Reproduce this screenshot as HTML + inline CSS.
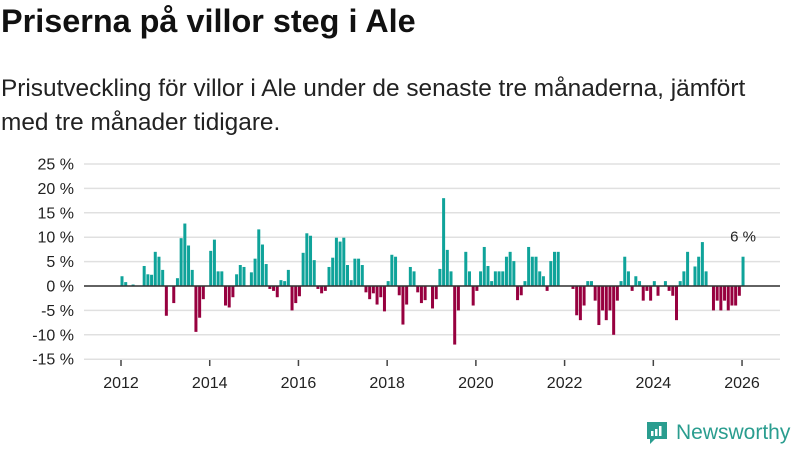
<!DOCTYPE html>
<html><head><meta charset="utf-8"><style>
body{margin:0;width:800px;height:450px;background:#fff;font-family:"Liberation Sans",sans-serif;overflow:hidden;position:relative}
#title{position:absolute;left:1px;top:3px;font-size:32.4px;font-weight:bold;color:#111;margin:0}
#sub{position:absolute;left:1px;top:72px;font-size:24.4px;line-height:34px;color:#222;width:798px;white-space:nowrap}
svg{position:absolute;left:0;top:0}
</style></head><body>
<h1 id="title">Priserna på villor steg i Ale</h1>
<div id="sub">Prisutveckling för villor i Ale under de senaste tre månaderna, jämfört<br>med tre månader tidigare.</div>
<svg id="chart" width="800" height="450"></svg>
<script>
const values=[2,0.8,0,0.3,0,0,4.1,2.4,2.3,7,6,3.3,-6.1,0,-3.5,1.6,9.8,12.8,8.3,3.3,-9.4,-6.5,-2.7,0,7.2,9.5,3,3,-4,-4.4,-2.3,2.4,4.3,3.9,0,2.8,5.6,11.6,8.5,4.5,-0.6,-1,-2.3,1.2,1,3.3,-5,-3.5,-2.1,6.8,10.8,10.3,5.3,-0.6,-1.5,-1,
3.9,5.8,9.9,9.1,9.9,4.3,1.2,5.6,5.6,4.3,-1.3,-2.7,-1.5,-3.8,-2.3,-5.2,1,6.4,6,-1.9,-7.9,-3.8,3.9,3,-1.3,-3.5,-2.9,0,-4.6,-2.7,3.5,18,7.4,3,-12,-5,0,7,3,-4,-1,3,8,4.1,1,3,3,3,6,7,5.1,-2.9,-1.9,1,8,6,6,3,2,
-1,5.1,7,7,0,0,0,-0.6,-6,-7,-4,1,1,-3,-8,-5,-7,-5,-10,-3,1,6,3,-1,2,1,-3,-1,-3,1,-2,0,1,-1,-2,-7,1,3,7,0,4,6,9,3,0,-5,-3,-5,-3,-5,-4,-4,-2,6];
const startYear=2012, startMonth=0;
const yTicks=[25,20,15,10,5,0,-5,-10,-15];
const xTicks=[2012,2014,2016,2018,2020,2022,2024,2026];
const annotation="6 %";
const NS="http://www.w3.org/2000/svg";
const svg=document.getElementById('chart');
const y=v=>286-v*4.88;
const x=t=>121+(t-2012)*44.36;
function el(tag,attrs,txt){const e=document.createElementNS(NS,tag);for(const k in attrs)e.setAttribute(k,attrs[k]);if(txt!=null)e.textContent=txt;svg.appendChild(e);return e;}
yTicks.forEach(v=>{
 const g=el('line',{x1:84,x2:780,y1:y(v),y2:y(v),stroke:'#e0e0e0','stroke-width':1.5});
 
 
 const t=el('text',{x:74,y:y(v)+5.5,'text-anchor':'end','font-size':16,fill:'#222'},v+' %');
 
 
});
values.forEach((v,i)=>{
 const t=startYear+(startMonth+i)/12;
 const cx=x(t)+1;
 const r=el('rect',{x:cx-1.5,width:3,y:Math.min(y(v),y(0)),height:Math.abs(y(v)-y(0)),fill:v>=0?'#0fa39a':'#97003f'});
 
 
});
const z=el('line',{x1:84,x2:780,y1:y(0),y2:y(0),stroke:'#333','stroke-width':1.5});


xTicks.forEach(yr=>{
 const tk=el('line',{x1:x(yr),x2:x(yr),y1:360,y2:366,stroke:'#444','stroke-width':1.5});
 
 
 const t=el('text',{x:x(yr),y:388,'text-anchor':'middle','font-size':16,fill:'#222'},String(yr));
 
 
});
const lastI=values.length-1;
const an=el('text',{x:x(startYear+(startMonth+lastI)/12)+1,y:y(values[lastI])-15,'text-anchor':'middle','font-size':15,fill:'#222'},annotation);


</script>
<div style="position:absolute;left:645px;top:420px;display:flex;align-items:center">
<svg width="24" height="26" style="position:static"><path d="M2 2h20v17h-12l-5 5v-5h-3z" fill="#2a9d8f"/><rect x="6" y="11" width="2.5" height="5" fill="#fff"/><rect x="10" y="9" width="2.5" height="7" fill="#fff"/><rect x="14" y="6" width="2.5" height="10" fill="#fff"/></svg>
<span style="font-size:21px;color:#2a9d8f;margin-left:7px;font-weight:500">Newsworthy</span></div>
</body></html>
